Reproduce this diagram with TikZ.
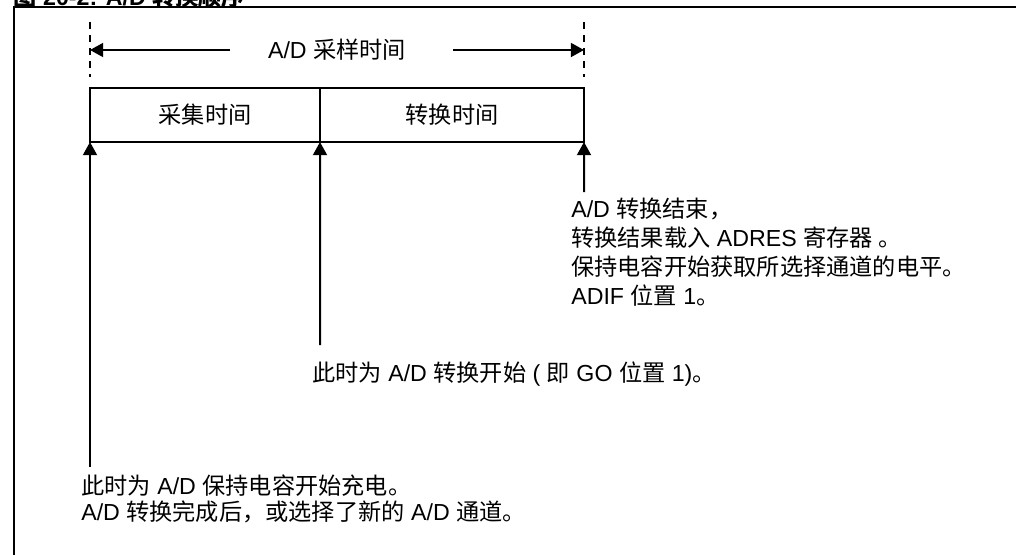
\documentclass[tikz,border=0pt]{standalone}
\usepackage{fontspec}
\setmainfont{Liberation Sans}
\newfontfamily\zhfont{Noto Sans CJK SC}
\newcommand{\zh}[1]{{\zhfont #1}}
\usepackage{tikz}
\usetikzlibrary{positioning}
\usetikzlibrary{arrows.meta}
\tikzset{
    % Solid filled arrow heads, as in the data sheet
    >={Triangle[length=3.3mm, width=3.5mm]},
%
    % Every line of the figure has the same weight
    heavy/.style={line width=0.5mm},
%
    % Text size used all through the figure
    body font/.style={font=\fontsize{16.5}{19}\selectfont},
%
    % The two phases of the sample period
    phase box/.style={
        draw, heavy, body font, minimum height=13.5mm,
        inner sep=0, outer sep=0},
%
    % Marks at both ends of the sample period
    period mark/.style={heavy, dash pattern=on 1.75mm off 1.5mm},
%
    % Notes hung under the arrows, #1 is the line pitch
    note/.style={anchor=west, align=left, inner sep=0,
        font=\fontsize{16.5}{#1}\selectfont},
    note/.default=19pt}

\begin{document}
\begin{tikzpicture}

% Figure frame, cut by the page edge

\useasboundingbox (0,0) rectangle (254mm,-138.5mm);

\node [anchor=base west, inner sep=0, font=\bfseries\fontsize{16.5}{19}\selectfont]
    (title) at (3.3mm,-1.3mm) {\zh{图} 20-2: A/D \zh{转换顺序}};
\draw [heavy] (3.5mm,-140mm) -- (3.5mm,-1.75mm) -- (256mm,-1.75mm);

% Acquisition and conversion phases

\node [phase box, minimum width=57.5mm, anchor=north west]
    (acq) at (22.5mm,-22mm) {\zh{采集时间}};
\node [phase box, minimum width=66mm, right=0mm of acq]
    (conv) {\zh{转换时间}};

\draw [period mark] (acq.north west) ++(0,16.5mm) -- ++(0,-13.75mm);
\draw [period mark] (conv.north east) ++(0,16.5mm) -- ++(0,-13.75mm);

\node [body font] (sample) at (84.25mm,-12.5mm) {A/D \zh{采样时间}};
\coordinate (sample left) at (57.5mm,-12.5mm);
\coordinate (sample right) at (113.25mm,-12.5mm);
\draw [heavy, ->] (sample left) -- (sample left -| acq.west);
\draw [heavy, ->] (sample right) -- (sample right -| conv.east);

% Events along the sample period

\coordinate (charge foot) at (22.5mm,-116.75mm);
\coordinate (go foot) at (80mm,-86.25mm);
\coordinate (done foot) at (146mm,-48mm);
\draw [heavy, ->] (charge foot) -- (acq.south west);
\draw [heavy, ->] (go foot) -- (acq.south east);
\draw [heavy, ->] (done foot) -- (conv.south east);

\node [note=7.25mm] (done note) at (142.75mm,-63.125mm)
{
    A/D \zh{转换结束，}\\
    \zh{转换结果载入} ADRES \zh{寄存器 。}\\
    \zh{保持电容开始获取所选择通道的电平。}\\
    ADIF \zh{位置} 1\zh{。}
};

\node [note] (go note) at (78mm,-93.5mm)
    {\zh{此时为} A/D \zh{转换开始} ( \zh{即} GO \zh{位置} 1)\zh{。}};

\node [note=6.5mm] (charge note) at (20.25mm,-124.75mm)
{
    \zh{此时为} A/D \zh{保持电容开始充电。}\\
    A/D \zh{转换完成后，或选择了新的} A/D \zh{通道。}
};

\end{tikzpicture}
\end{document}
